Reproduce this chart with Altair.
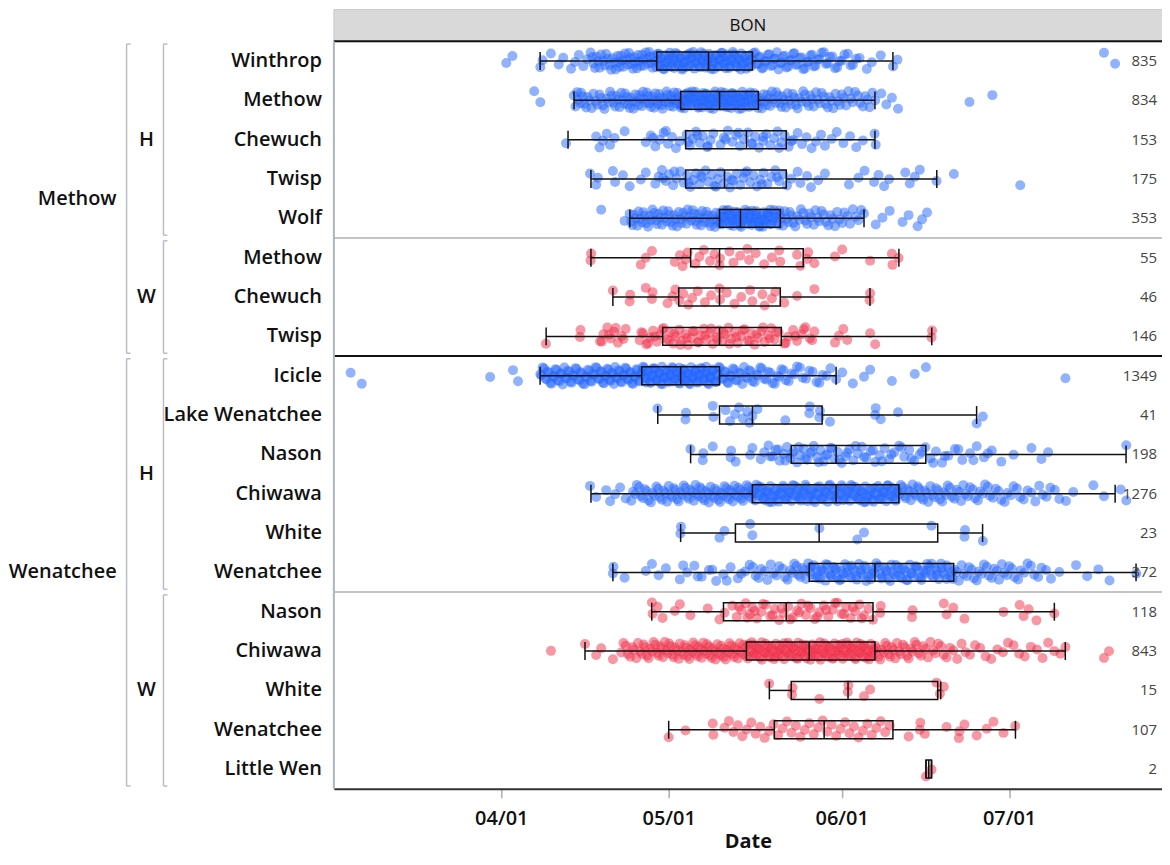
import altair as alt
import pandas as pd

# ---------------- data (days counted from 03/01 = 0) ----------------
ROW_NAMES = ["Winthrop", "Methow", "Chewuch", "Twisp", "Wolf",
             "Methow", "Chewuch", "Twisp",
             "Icicle", "Lake Wenatchee", "Nason", "Chiwawa", "White", "Wenatchee",
             "Nason", "Chiwawa", "White", "Wenatchee", "Little Wen"]
ROW_ORIGIN = ["H", "H", "H", "H", "H", "W", "W", "W",
              "H", "H", "H", "H", "H", "H", "W", "W", "W", "W", "W"]
ROW_RIVER = ["Methow", "Methow", "Methow", "Methow", "Methow", "Methow", "Methow", "Methow",
             "Wenatchee", "Wenatchee", "Wenatchee", "Wenatchee", "Wenatchee", "Wenatchee",
             "Wenatchee", "Wenatchee", "Wenatchee", "Wenatchee", "Wenatchee"]
N_COUNTS = [835, 834, 153, 175, 353, 55, 46, 146, 1349, 41, 198, 1276, 23, 372, 118, 843, 15, 107, 2]
FACET = "BON"

WHISKER_LO = [37.96, 44.04, 42.96, 47.07, 54.04, 47.07, 51.0, 39.04, 37.96, 59.04,
              64.93, 47.07, 63.14, 51.0, 57.96, 46.0, 79.04, 61.0, 107.1]
Q1 = [58.86, 63.14, 64.04, 64.04, 70.11, 64.93, 62.79, 59.93, 56.18, 70.11,
      82.96, 76.0, 72.96, 86.18, 70.82, 74.93, 82.96, 79.93, 107.1]
MEDIAN = [68.14, 70.11, 74.93, 71.0, 73.86, 70.11, 70.11, 70.11, 63.14, 76.0,
          91.0, 91.0, 87.96, 97.96, 82.07, 86.18, 93.14, 88.86, 107.6]
Q3 = [76.0, 77.07, 82.07, 82.07, 81.0, 85.11, 81.0, 81.18, 70.11, 88.5,
      107.07, 102.25, 109.21, 112.07, 97.61, 97.96, 109.21, 101.18, 108.1]
WHISKER_HI = [101.18, 97.96, 97.96, 109.04, 96.0, 102.25, 97.07, 108.14, 91.0, 116.18,
              142.96, 141.0, 117.25, 144.75, 130.11, 132.07, 109.75, 123.14, 108.1]

P_WINTHROP = [31.9, 33.0, 38.0, 38.4, 39.9, 41.3, 42.1, 43.5, 44.2, 44.9, 45.7, 46.4, 47.0, 47.5, 48.1,
              48.6, 49.3, 49.8, 50.4, 50.9, 51.5, 52.0, 52.4, 52.9, 53.5, 53.9, 54.4, 54.8, 55.3, 55.7,
              56.2, 56.6, 57.1, 57.5, 57.9, 58.3, 58.8, 59.1, 59.2, 59.5, 59.6, 60.0, 60.3, 60.4, 60.8,
              61.0, 61.2, 61.6, 61.8, 62.0, 62.4, 62.6, 62.8, 63.2, 63.4, 63.6, 64.0, 64.2, 64.4, 64.8,
              65.0, 65.2, 65.6, 65.9, 66.0, 66.4, 66.7, 66.8, 67.2, 67.4, 67.6, 68.0, 68.3, 68.4, 68.8,
              69.1, 69.2, 69.6, 69.9, 70.0, 70.4, 70.7, 70.8, 71.2, 71.4, 71.6, 72.0, 72.3, 72.5, 72.9,
              73.1, 73.3, 73.8, 74.0, 74.2, 74.6, 74.9, 75.1, 75.5, 75.8, 76.0, 76.5, 77.0, 77.4, 77.9,
              78.5, 79.0, 79.6, 80.1, 80.7, 81.2, 81.8, 82.4, 83.0, 83.5, 84.1, 84.8, 85.4, 86.0, 86.7,
              87.3, 88.0, 88.8, 89.5, 90.3, 91.2, 92.0, 93.1, 94.0, 95.2, 96.5, 97.4, 99.0, 101.2, 102.0,
              139.0, 141.0,
              47.3, 47.8, 48.4, 48.9, 49.5, 50.1, 50.7, 51.2, 51.8, 52.2, 52.7, 53.2, 53.7, 54.1, 54.6,
              55.1, 55.5, 56.0, 56.4, 56.9, 57.3, 57.7, 58.1, 58.6, 59.0, 59.4, 59.8, 60.2, 60.6, 61.1,
              61.4, 61.9, 62.2, 62.7, 63.0, 63.5, 63.9, 64.3, 64.7, 65.1, 65.4, 65.8, 66.2, 66.6, 67.0,
              67.3, 67.8, 68.2, 68.6, 69.0, 69.4, 69.8, 70.2, 70.6, 71.0, 71.3, 71.8, 72.2, 72.7, 73.0,
              73.5, 73.9, 74.4, 74.8, 75.3, 75.7, 76.2, 76.8, 77.2, 77.7, 78.2, 78.8, 79.3, 79.9, 80.4,
              81.0, 81.5, 82.1, 82.7, 83.3, 83.8, 84.5, 85.1, 85.7, 86.4, 87.0, 87.7, 88.4, 89.2, 89.9,
              90.8, 91.6, 92.5, 93.6, 94.6]
P_METHOW_H = [36.9, 38.0, 44.0, 44.3, 44.8, 45.3, 45.9, 46.5, 47.2, 47.9, 48.6, 49.2, 49.9, 50.5, 51.1,
              51.6, 52.2, 52.7, 53.2, 53.7, 54.2, 54.7, 55.2, 55.7, 56.2, 56.6, 57.1, 57.5, 58.0, 58.4,
              58.9, 59.3, 59.7, 60.1, 60.6, 61.0, 61.4, 61.8, 62.2, 62.6, 63.0, 63.4, 63.8, 64.2, 64.6,
              65.0, 65.4, 65.8, 66.2, 66.6, 67.0, 67.4, 67.8, 68.2, 68.6, 69.0, 69.4, 69.8, 70.2, 70.6,
              71.0, 71.4, 71.8, 72.2, 72.6, 73.0, 73.4, 73.8, 74.2, 74.6, 75.0, 75.4, 75.9, 76.3, 76.8,
              77.2, 77.7, 78.2, 78.7, 79.2, 79.8, 80.3, 80.9, 81.4, 82.0, 82.6, 83.2, 83.8, 84.4, 85.1,
              85.7, 86.4, 87.0, 87.7, 88.4, 89.1, 89.8, 90.5, 91.3, 92.0, 92.8, 93.6, 94.4, 95.3, 96.2,
              97.0, 98.0, 99.1, 100.0, 101.0, 102.1, 114.9, 119.0,
              63.3, 63.9, 64.5, 65.1, 65.7, 66.3, 66.9, 67.5, 68.1, 68.7, 69.3, 69.9, 70.5, 71.1, 71.7,
              72.3, 72.9, 73.5, 74.1, 74.7, 75.3, 75.9, 76.5,
              44.6, 45.1, 45.6, 46.2, 46.8, 47.5, 48.2, 48.9, 49.5, 50.2, 50.8, 51.4, 51.9, 52.5, 53.0,
              53.5, 54.0, 54.5, 55.0, 55.5, 55.9, 56.4, 56.9, 57.3, 57.8, 58.2, 58.6, 59.1, 59.5, 59.9,
              60.4, 60.8, 61.2, 61.6, 62.0, 62.4, 62.8, 63.2, 63.6, 64.0, 64.4, 64.8, 65.2, 65.6, 66.0,
              66.4, 66.8, 67.2, 67.6, 68.0, 68.4, 68.8, 69.2, 69.6, 70.0, 70.4, 70.8, 71.2, 71.6, 72.0,
              72.4, 72.8, 73.2, 73.6, 74.0, 74.4, 74.8, 75.2, 75.6, 76.1, 76.6, 77.0, 77.5, 78.0, 78.5,
              79.0, 79.5, 80.1, 80.6, 81.2, 81.7, 82.3, 82.9, 83.5, 84.1, 84.8, 85.4, 86.1, 86.7, 87.4,
              88.1, 88.8, 89.5, 90.2, 90.9, 91.7, 92.4, 93.2, 94.0, 94.9, 95.8, 96.6, 97.5]
P_CHEWUCH_H = [42.6, 48.0, 48.6, 49.2, 49.9, 50.5, 51.3, 53.1, 56.9, 57.8, 58.6, 59.4, 60.1, 60.9, 61.6,
               62.3, 63.0, 64.2, 64.8, 65.3, 65.9, 66.6, 67.1, 67.9, 68.5, 69.0, 70.3, 70.9, 71.6, 72.4,
               73.1, 73.8, 74.5, 75.2, 75.8, 76.5, 77.2, 77.9, 78.5, 79.2, 79.9, 80.5, 81.2, 81.8, 82.5,
               83.3, 84.1, 84.9, 85.7, 86.6, 87.4, 88.3, 89.0, 90.2, 91.1, 92.3, 93.5, 94.6, 95.8, 97.9,
               98.1, 58.2, 60.5, 64.5, 66.1, 68.0, 71.2, 73.5, 76.0, 78.0, 80.8, 83.0]
P_TWISP_H = [46.9, 48.0, 48.3, 51.0, 51.4, 52.8, 54.0, 56.0, 56.9, 58.6, 59.2, 59.8, 60.5, 61.1, 61.8,
             62.4, 63.1, 63.7, 64.3, 64.9, 65.4, 65.9, 66.5, 67.0, 67.6, 68.1, 68.7, 69.2, 69.8, 70.3,
             70.9, 71.5, 72.0, 72.6, 73.2, 73.8, 74.4, 75.0, 75.6, 76.2, 76.8, 77.4, 78.0, 78.7, 79.4,
             80.1, 80.8, 81.5, 82.2, 83.0, 84.1, 84.6, 85.8, 86.5, 87.8, 89.0, 93.3, 95.0, 96.1, 97.8,
             98.6, 99.6, 100.5, 103.4, 104.2, 105.1, 106.0, 109.0, 112.1, 124.0,
             60.0, 62.0, 64.6, 66.8, 69.5, 72.3, 74.7, 77.7, 80.4]
P_WOLF = [48.9, 53.1, 54.0, 54.5, 55.1, 55.6, 56.2, 56.7, 57.3, 57.8, 58.4, 58.9, 59.5, 60.0, 60.6,
          61.1, 61.7, 62.2, 62.8, 63.3, 63.9, 64.4, 65.0, 65.5, 66.0, 66.5, 67.0, 67.5, 68.0, 68.5,
          69.0, 69.5, 70.0, 70.4, 70.8, 71.2, 71.6, 72.0, 72.4, 72.8, 73.2, 73.6, 74.0, 74.4, 74.8,
          75.2, 75.6, 76.0, 76.4, 76.8, 77.2, 77.6, 78.0, 78.4, 78.8, 79.2, 79.7, 80.2, 80.7, 81.2,
          81.8, 82.4, 83.0, 83.7, 84.4, 85.1, 85.8, 86.5, 87.3, 88.0, 88.8, 89.6, 90.4, 91.2, 92.1,
          93.0, 94.0, 95.0, 96.0, 98.1, 99.3, 100.6, 102.9, 104.0, 105.6, 106.4, 107.3,
          70.3, 71.0, 71.7, 72.4, 73.1, 73.8, 74.5, 75.2, 75.9, 76.6, 77.3, 78.0, 78.7, 79.4, 80.1, 80.8,
          54.3, 54.8, 55.4, 55.9, 56.5, 57.0, 57.6, 58.1, 58.7, 59.2, 59.8, 60.3, 60.9, 61.4, 62.0,
          62.5, 63.1, 63.6, 64.2, 64.7, 65.3, 65.8, 66.3, 66.8, 67.3, 67.8, 68.3, 68.8, 69.3, 69.8,
          70.2, 70.6, 71.0, 71.4, 71.8, 72.2, 72.6, 73.0, 73.4, 73.9, 74.3, 74.7, 75.1, 75.5, 75.9,
          76.3, 76.7, 77.1, 77.5, 77.9, 78.3, 78.7, 79.1, 79.5, 79.9, 80.5, 81.0, 81.5, 82.1, 82.7,
          83.3, 84.0, 84.7, 85.5, 86.2, 87.0, 87.7, 88.4, 89.2, 90.0, 90.8, 91.6, 92.5, 93.5, 94.5, 95.5]
P_METHOW_W = [47.0, 47.1, 56.0, 56.9, 58.0, 62.1, 63.0, 63.5, 64.0, 64.4, 65.8, 66.5, 67.3, 68.4, 69.2,
              70.1, 70.2, 71.9, 72.6, 73.8, 75.1, 75.4, 76.6, 78.1, 79.5, 80.8, 81.0, 84.0, 84.6, 85.8,
              86.0, 87.1, 90.8, 92.1, 97.1, 101.0, 101.1, 102.2]
P_CHEWUCH_W = [51.0, 54.0, 54.1, 56.9, 58.0, 58.1, 60.8, 61.7, 62.2, 62.9, 63.6, 64.5, 65.2, 66.2, 67.5,
               68.6, 70.1, 70.2, 71.4, 72.8, 74.0, 75.6, 76.0, 77.8, 78.2, 79.5, 80.1, 81.7, 84.0, 87.1,
               97.0, 97.1]
P_TWISP_W = [39.0, 45.1, 45.2, 48.7, 49.3, 50.0, 50.6, 51.2, 51.9, 52.6, 53.3, 55.8, 56.4, 57.0, 57.6,
             58.2, 58.9, 59.5, 60.1, 60.7, 61.2, 61.8, 62.3, 62.9, 63.4, 64.0, 64.5, 65.1, 65.6, 66.2,
             66.7, 67.3, 67.8, 68.4, 68.9, 69.5, 70.0, 70.6, 71.1, 71.7, 72.2, 72.8, 73.4, 74.0, 74.6,
             75.2, 75.8, 76.4, 77.0, 77.6, 78.2, 78.8, 79.4, 80.0, 80.7, 81.7, 82.4, 83.3, 84.0, 84.8,
             85.5, 86.3, 87.1, 90.8, 91.5, 92.3, 93.0, 97.1, 98.0, 108.1, 108.2,
             49.0, 50.3, 51.5, 52.9, 56.1, 57.3, 58.5, 59.8, 61.0, 62.0, 63.1, 64.2, 65.3, 66.4, 67.5,
             68.6, 69.7, 70.8, 71.9, 73.1, 74.3, 75.5, 76.7, 77.9, 79.1, 80.3, 82.0, 83.7, 85.2, 86.7]
P_ICICLE = [4.0, 6.0, 29.0, 33.1, 34.0, 38.0, 38.4, 38.9, 39.3, 39.8, 40.2, 40.7, 41.1, 41.6, 42.0,
            42.5, 42.9, 43.4, 43.8, 44.3, 44.7, 45.2, 45.6, 46.1, 46.5, 47.0, 47.4, 47.9, 48.3, 48.8,
            49.2, 49.6, 50.0, 50.4, 50.8, 51.2, 51.6, 52.0, 52.4, 52.8, 53.2, 53.6, 54.0, 54.4, 54.8,
            55.2, 55.6, 56.0, 56.4, 56.8, 57.2, 57.6, 58.0, 58.4, 58.8, 59.2, 59.6, 60.0, 60.4, 60.8,
            61.2, 61.6, 62.0, 62.4, 62.8, 63.2, 63.6, 64.0, 64.4, 64.8, 65.2, 65.6, 66.0, 66.4, 66.8,
            67.2, 67.6, 68.0, 68.4, 68.8, 69.2, 69.6, 70.0, 70.5, 71.0, 71.5, 72.0, 72.5, 73.0, 73.6,
            74.2, 74.8, 75.4, 76.0, 76.7, 77.4, 78.1, 78.8, 79.6, 80.4, 81.2, 82.0, 83.0, 84.0, 85.0,
            86.2, 87.5, 88.6, 90.0, 91.0, 92.1, 94.0, 96.0, 97.1, 101.0, 105.1, 107.1, 132.1,
            56.3, 56.9, 57.5, 58.1, 58.7, 59.3, 59.9, 60.5, 61.1, 61.7, 62.3, 62.9, 63.5, 64.1, 64.7,
            65.3, 65.9, 66.5, 67.1, 67.7, 68.3, 68.9, 69.5,
            38.2, 38.7, 39.1, 39.6, 40.0, 40.5, 40.9, 41.4, 41.8, 42.3, 42.7, 43.2, 43.6, 44.1, 44.5,
            45.0, 45.4, 45.9, 46.3, 46.8, 47.2, 47.7, 48.1, 48.6, 49.0, 49.4, 49.8, 50.2, 50.6, 51.0,
            51.4, 51.8, 52.2, 52.6, 53.0, 53.4, 53.8, 54.2, 54.6, 55.0, 55.4, 55.8, 56.2, 56.6, 57.0,
            57.4, 57.8, 58.2, 58.6, 59.0, 59.4, 59.8, 60.2, 60.6, 61.0, 61.4, 61.8, 62.2, 62.6, 63.0,
            63.4, 63.8, 64.2, 64.6, 65.0, 65.4, 65.8, 66.2, 66.6, 67.0, 67.4, 67.8, 68.2, 68.6, 69.0,
            69.4, 69.8, 70.2, 70.7, 71.2, 71.7, 72.2, 72.8, 73.3, 73.9, 74.5, 75.1, 75.7, 76.4, 77.0,
            77.7, 78.5, 79.2, 80.0, 80.8, 81.6, 82.5, 83.5, 84.5, 85.6, 86.8, 88.0, 89.3]
P_LAKE_WEN = [59.0, 64.0, 64.1, 68.9, 69.0, 71.2, 72.0, 72.9, 73.6, 74.3, 75.1, 75.5, 76.0, 76.9, 81.9,
              86.2, 86.3, 88.0, 88.1, 89.9, 98.0, 98.1, 99.0, 102.1, 116.2, 117.3]
P_NASON_H = [64.9, 67.1, 67.2, 68.9, 72.1, 72.2, 73.0, 75.6, 76.0, 77.5, 78.1, 78.9, 79.6, 80.2, 80.9,
             81.6, 82.2, 82.8, 83.4, 84.0, 84.6, 85.2, 85.8, 86.4, 87.0, 87.6, 88.2, 88.8, 89.4, 90.0,
             90.6, 91.3, 92.0, 92.7, 93.4, 94.1, 94.9, 95.6, 96.4, 97.2, 98.0, 98.8, 99.7, 100.5, 101.4,
             102.3, 103.2, 104.1, 105.0, 106.0, 107.0, 107.9, 108.9, 110.0, 111.1, 112.3, 113.6, 115.0,
             116.2, 117.5, 118.9, 120.6, 122.8, 126.0, 127.8, 129.0, 143.0,
             79.2, 80.6, 81.9, 83.1, 84.3, 85.5, 86.7, 87.9, 89.1, 90.3, 91.6, 93.0, 94.5, 96.0, 97.6,
             99.2, 100.9, 102.7, 104.5, 106.4, 108.4, 110.5, 112.9, 115.6, 118.2]
P_CHIWAWA_H = [46.9, 48.0, 49.8, 50.5, 51.4, 52.3, 53.3, 54.6, 55.3, 56.0, 56.7, 57.4, 58.1, 58.8, 59.4,
               60.1, 60.7, 61.3, 61.9, 62.5, 63.1, 63.7, 64.3, 64.9, 65.5, 66.0, 66.6, 67.1, 67.7, 68.2,
               68.8, 69.3, 69.9, 70.4, 71.0, 71.5, 72.0, 72.5, 73.0, 73.5, 74.0, 74.5, 75.0, 75.5, 76.0,
               76.5, 77.0, 77.5, 78.0, 78.5, 79.0, 79.5, 80.0, 80.5, 81.0, 81.5, 82.0, 82.5, 83.0, 83.5,
               84.0, 84.5, 85.0, 85.5, 86.0, 86.5, 87.0, 87.5, 88.0, 88.5, 89.0, 89.5, 90.0, 90.5, 91.0,
               91.5, 92.0, 92.5, 93.0, 93.5, 94.0, 94.5, 95.0, 95.5, 96.0, 96.5, 97.0, 97.5, 98.0, 98.5,
               99.0, 99.5, 100.0, 100.5, 101.0, 101.5, 102.0, 102.6, 103.2, 103.8, 104.4, 105.0, 105.6,
               106.2, 106.9, 107.5, 108.2, 108.9, 109.6, 110.3, 111.0, 111.8, 112.6, 113.4, 114.2, 115.0,
               115.9, 116.8, 117.7, 118.6, 119.6, 120.6, 121.7, 122.8, 124.0, 125.3, 126.7, 128.0, 129.4,
               131.0, 133.5, 137.1, 139.0, 142.0, 143.0,
               76.3, 77.1, 77.9, 78.7, 79.5, 80.3, 81.1, 81.9, 82.7, 83.5, 84.3, 85.1, 85.9, 86.7, 87.5,
               88.3, 89.1, 89.9, 90.7, 91.5, 92.3, 93.1, 93.9, 94.7, 95.5, 96.3, 97.1, 97.9, 98.7, 99.5,
               100.3, 101.1, 101.9,
               54.3, 55.0, 55.7, 56.4, 57.1, 57.8, 58.5, 59.1, 59.8, 60.4, 61.0, 61.6, 62.2, 62.8, 63.4,
               64.0, 64.6, 65.2, 65.8, 66.3, 66.9, 67.4, 68.0, 68.5, 69.1, 69.6, 70.2, 70.7, 71.3, 71.8,
               72.3, 72.8, 73.3, 73.8, 74.3, 74.8, 75.3, 75.8, 76.2, 76.7, 77.2, 77.7, 78.2, 78.7, 79.2,
               79.7, 80.2, 80.7, 81.2, 81.7, 82.2, 82.7, 83.2, 83.7, 84.2, 84.7, 85.2, 85.7, 86.2, 86.7,
               87.2, 87.7, 88.2, 88.7, 89.2, 89.7, 90.2, 90.7, 91.2, 91.7, 92.2, 92.7, 93.2, 93.7, 94.2,
               94.7, 95.2, 95.7, 96.2, 96.7, 97.2, 97.7, 98.2, 98.7, 99.2, 99.7, 100.2, 100.7, 101.2,
               101.7, 102.3, 102.9, 103.5, 104.1, 104.7, 105.3, 105.9, 106.6, 107.2, 107.9, 108.6, 109.3,
               110.0, 110.7, 111.4, 112.2, 113.0, 113.8, 114.6, 115.5, 116.4, 117.3, 118.2, 119.1, 120.1,
               121.2, 122.3, 123.4, 124.6, 126.0, 127.4, 128.7, 130.2, 132.2]
P_WHITE_H = [63.1, 63.2, 70.1, 71.0, 75.6, 76.0, 88.0, 94.8, 96.0, 108.1, 114.0, 114.1, 117.3]
P_WENATCHEE_H = [51.0, 51.1, 53.1, 56.9, 58.0, 59.2, 60.5, 63.0, 64.3, 65.6, 66.9, 68.2, 69.5, 70.8, 72.1,
                 73.4, 74.7, 75.5, 76.6, 77.6, 78.7, 79.8, 80.8, 81.9, 82.8, 83.5, 84.2, 84.9, 85.6, 86.3,
                 87.0, 87.7, 88.4, 89.1, 89.8, 90.5, 91.2, 91.9, 92.6, 93.3, 94.0, 94.7, 95.4, 96.1, 96.8,
                 97.5, 98.2, 98.9, 99.6, 100.3, 101.0, 101.7, 102.4, 103.1, 103.8, 104.5, 105.2, 105.9,
                 106.6, 107.3, 108.0, 108.7, 109.4, 110.1, 110.8, 111.5, 112.2, 113.0, 113.9, 114.8, 115.7,
                 116.6, 117.5, 118.4, 119.3, 120.2, 121.1, 122.0, 123.0, 124.1, 125.3, 126.5, 127.8, 129.5,
                 131.0, 134.0, 136.0, 138.0, 140.0, 144.8,
                 86.5, 87.4, 88.3, 89.2, 90.1, 91.0, 91.9, 92.8, 93.7, 94.6, 95.5, 96.4, 97.3, 98.2, 99.1,
                 100.0, 100.9, 101.8, 102.7, 103.6, 104.5, 105.4, 106.3, 107.2, 108.1, 109.0, 109.9, 110.8,
                 111.7,
                 63.6, 66.2, 68.8, 71.4, 74.0, 76.1, 77.1, 78.2, 79.3, 80.3, 81.4, 82.3, 83.2, 83.9, 84.6,
                 85.3, 86.0, 86.7, 87.4, 88.1, 88.8, 89.5, 90.2, 90.9, 91.6, 92.3, 93.0, 93.7, 94.4, 95.1,
                 95.8, 96.5, 97.2, 97.9, 98.6, 99.3, 100.0, 100.7, 101.4, 102.1, 102.8, 103.5, 104.2, 104.9,
                 105.6, 106.3, 107.0, 107.7, 108.4, 109.1, 109.8, 110.5, 111.2, 111.9, 112.6, 113.5, 114.4,
                 115.3, 116.2, 117.1, 118.0, 118.9, 119.8, 120.7, 121.6, 122.5, 123.6, 124.7, 125.9, 127.2,
                 128.6]
P_NASON_W = [58.0, 58.1, 59.0, 59.9, 62.1, 63.0, 64.9, 68.0, 70.1, 71.0, 72.4, 73.2, 74.0, 74.8, 75.5,
             76.0, 76.8, 77.6, 78.4, 79.2, 80.0, 80.8, 81.6, 82.4, 83.2, 84.0, 84.8, 85.6, 86.4, 87.2,
             88.0, 88.8, 89.6, 90.4, 91.2, 92.0, 92.8, 93.6, 94.4, 95.2, 96.0, 96.8, 97.6, 98.9, 99.0,
             104.6, 104.7, 110.3, 110.8, 112.0, 114.0, 121.0, 123.9, 124.6, 125.5, 126.9, 130.1,
             73.6, 75.1, 76.4, 77.9, 79.6, 81.2, 82.8, 84.4, 86.0, 87.6, 89.2, 90.8, 92.4, 94.0, 95.6]
P_CHIWAWA_W = [39.9, 46.0, 48.0, 48.9, 51.0, 52.5, 53.3, 54.1, 54.8, 55.5, 56.2, 56.8, 57.4, 58.0, 58.6,
               59.2, 59.7, 60.3, 60.8, 61.4, 61.9, 62.5, 63.0, 63.6, 64.1, 64.7, 65.2, 65.7, 66.2, 66.7,
               67.2, 67.7, 68.2, 68.7, 69.2, 69.7, 70.2, 70.7, 71.2, 71.7, 72.2, 72.7, 73.2, 73.7, 74.2,
               74.7, 75.2, 75.7, 76.2, 76.7, 77.2, 77.7, 78.2, 78.7, 79.2, 79.7, 80.2, 80.7, 81.2, 81.7,
               82.2, 82.7, 83.2, 83.7, 84.2, 84.7, 85.2, 85.7, 86.2, 86.7, 87.2, 87.7, 88.2, 88.7, 89.2,
               89.7, 90.2, 90.7, 91.2, 91.7, 92.2, 92.7, 93.2, 93.7, 94.2, 94.7, 95.2, 95.7, 96.2, 96.7,
               97.2, 97.7, 98.3, 98.9, 99.5, 100.1, 100.7, 101.3, 101.9, 102.6, 103.3, 104.0, 104.7,
               105.4, 106.2, 107.0, 107.9, 108.8, 109.8, 110.8, 112.0, 113.5, 115.0, 116.8, 118.8, 120.9,
               122.8, 124.8, 127.0, 129.0, 131.2, 132.1, 139.0, 139.9,
               75.3, 76.1, 76.9, 77.7, 78.5, 79.3, 80.1, 80.9, 81.7, 82.5, 83.3, 84.1, 84.9, 85.7, 86.5,
               87.3, 88.1, 88.9, 89.7, 90.5, 91.3, 92.1, 92.9, 93.7, 94.5, 95.3, 96.1, 96.9, 97.7,
               52.9, 53.7, 54.5, 55.2, 55.9, 56.5, 57.1, 57.7, 58.3, 58.9, 59.5, 60.0, 60.6, 61.1, 61.7,
               62.2, 62.8, 63.3, 63.9, 64.4, 64.9, 65.4, 65.9, 66.4, 66.9, 67.4, 67.9, 68.4, 68.9, 69.4,
               69.9, 70.4, 70.9, 71.4, 71.9, 72.4, 72.9, 73.4, 73.9, 74.4, 74.9, 75.4, 75.9, 76.4, 76.9,
               77.4, 77.9, 78.4, 78.9, 79.4, 79.9, 80.4, 80.9, 81.4, 81.9, 82.4, 82.9, 83.4, 83.9, 84.4,
               84.9, 85.4, 85.9, 86.4, 86.9, 87.4, 87.9, 88.4, 88.9, 89.4, 89.9, 90.4, 90.9, 91.4, 91.9,
               92.4, 92.9, 93.4, 93.9, 94.4, 94.9, 95.4, 95.9, 96.4, 96.9, 97.4, 98.0, 98.6, 99.2, 99.8,
               100.4, 101.0, 101.6, 102.3, 103.0, 103.7, 104.4, 105.1, 105.8, 106.6, 107.5, 108.4, 109.3,
               110.3, 111.4, 112.7, 114.2, 115.9, 117.8, 119.9, 121.8, 123.8, 125.9, 128.0, 130.1]
P_WHITE_W = [79.0, 83.1, 83.2, 88.0, 93.1, 93.2, 96.0, 97.1, 109.0, 109.6, 110.3]
P_WENATCHEE_W = [61.0, 64.0, 68.9, 69.0, 71.0, 71.8, 72.6, 73.4, 74.2, 75.0, 75.8, 76.6, 77.4, 78.2, 79.0,
                 79.8, 80.6, 81.4, 82.2, 83.0, 83.8, 84.6, 85.4, 86.2, 87.0, 87.8, 88.6, 89.4, 90.2, 91.0,
                 91.8, 92.6, 93.4, 94.2, 95.0, 95.8, 96.6, 97.4, 98.2, 99.0, 99.8, 100.6, 104.0, 106.0,
                 106.1, 106.9, 110.8, 113.0, 113.1, 114.0, 116.2, 118.0, 119.2, 121.0, 123.1]
P_LITTLE_WEN = [107.1, 108.1]

POINTS = [P_WINTHROP, P_METHOW_H, P_CHEWUCH_H, P_TWISP_H, P_WOLF, P_METHOW_W, P_CHEWUCH_W, P_TWISP_W,
          P_ICICLE, P_LAKE_WEN, P_NASON_H, P_CHIWAWA_H, P_WHITE_H, P_WENATCHEE_H,
          P_NASON_W, P_CHIWAWA_W, P_WHITE_W, P_WENATCHEE_W, P_LITTLE_WEN]

TICK_DAYS = [31, 61, 92, 122]
TICK_LABELS = ["04/01", "05/01", "06/01", "07/01"]

# ---------------- layout / style ----------------
W, H = 831, 750
FONT = "Open Sans"
BLUE, RED = "#2466ff", "#f0304a"
BRACKET = "#b7bec8"
KEYS = [f"r{i:02d}" for i in range(len(ROW_NAMES))]

# ---------------- tables ----------------
pts = pd.DataFrame([{"key": KEYS[i], "day": v, "origin": ROW_ORIGIN[i]}
                    for i, vals in enumerate(POINTS) for v in vals])
box = pd.DataFrame({"key": KEYS, "name": ROW_NAMES, "n": N_COUNTS, "lo": WHISKER_LO, "q1": Q1,
                    "med": MEDIAN, "q3": Q3, "hi": WHISKER_HI})


def runs(labels):
    out, start = [], 0
    for i in range(1, len(labels) + 1):
        if i == len(labels) or labels[i] != labels[start]:
            out.append((labels[start], start, i - 1))
            start = i
    return out


inset = 0.07
pairs = list(zip(ROW_RIVER, ROW_ORIGIN))
inner = pd.DataFrame([{"label": p[1], "y0": s - 0.5 + inset, "y1": e + 0.5 - inset, "mid": (s + e) / 2}
                      for p, s, e in runs(pairs)])
outer = pd.DataFrame([{"label": r, "y0": s - 0.5 + inset, "y1": e + 0.5 - inset, "mid": (s + e) / 2}
                      for r, s, e in runs(ROW_RIVER)])
seps = []
for i in range(1, len(ROW_NAMES)):
    if pairs[i] != pairs[i - 1]:
        seps.append({"b": i - 0.5, "kind": "river" if ROW_RIVER[i] != ROW_RIVER[i - 1] else "origin"})
seps = pd.DataFrame(seps)
one = pd.DataFrame({"facet": [FACET]})

label_expr = "".join(f"datum.value == {d} ? '{l}' : " for d, l in zip(TICK_DAYS, TICK_LABELS)) + "''"

xs = alt.Scale(domain=[1.0, 149.4], nice=False, zero=False)
xaxis = alt.Axis(values=TICK_DAYS, labelExpr=label_expr, title="Date", grid=False,
                 domainColor="#333333", domainWidth=2, tickColor="#aab0b8", tickWidth=1.5, tickSize=9,
                 labelFont=FONT, labelFontSize=20, labelFontWeight=600, labelColor="#111111",
                 labelPadding=11, titleFont=FONT, titleFontSize=20, titleFontWeight="bold",
                 titleColor="#111111", titlePadding=3)
yband = alt.Y("key:N", scale=alt.Scale(domain=KEYS, paddingInner=0, paddingOuter=0), axis=None)
yq = alt.Scale(domain=[-0.5, len(ROW_NAMES) - 0.5], reverse=True, nice=False, zero=False)


def X(field):
    return alt.X(field, scale=xs, axis=xaxis)


# header
header = alt.Chart(one).mark_rect(fill="#d9d9d9", stroke="#cccccc", strokeWidth=1).encode(
    x=alt.value(0), x2=alt.value(W + 10), y=alt.value(-32), y2=alt.value(0))
header_txt = alt.Chart(one).mark_text(font=FONT, fontSize=17, color="#111111", baseline="middle").encode(
    x=alt.value(W / 2), y=alt.value(-15), text="facet:N")
top_line = alt.Chart(one).mark_rule(color="#111111", strokeWidth=2).encode(
    x=alt.value(0), x2=alt.value(W), y=alt.value(0))
left_line = alt.Chart(one).mark_rule(color="#b0b7bf", strokeWidth=2).encode(
    x=alt.value(0), y=alt.value(0), y2=alt.value(H))

sep_origin = alt.Chart(seps).transform_filter("datum.kind == 'origin'").mark_rule(
    color="#c4c4c4", strokeWidth=2).encode(x=alt.value(0), x2=alt.value(W), y=alt.Y("b:Q", scale=yq, axis=None))
sep_river = alt.Chart(seps).transform_filter("datum.kind == 'river'").mark_rule(
    color="#111111", strokeWidth=2).encode(x=alt.value(0), x2=alt.value(W), y=alt.Y("b:Q", scale=yq, axis=None))

points = alt.Chart(pts).transform_window(rn="row_number()").transform_calculate(
    jit="(datum.rn * 0.6180339887) % 1").mark_circle(size=100, opacity=0.5).encode(
    x=X("day:Q"), y=yband,
    yOffset=alt.YOffset("jit:Q", scale=alt.Scale(domain=[0, 1], range=[10.5, 28.5])),
    color=alt.Color("origin:N", scale=alt.Scale(domain=["H", "W"], range=[BLUE, RED]), legend=None))

wl = alt.Chart(box).mark_rule(color="#111111", strokeWidth=1.5).encode(x=X("lo:Q"), x2="q1:Q", y=yband)
wh = alt.Chart(box).mark_rule(color="#111111", strokeWidth=1.5).encode(x=X("q3:Q"), x2="hi:Q", y=yband)
boxes = alt.Chart(box).mark_bar(size=18, fillOpacity=0, stroke="#111111", strokeWidth=1.5).encode(
    x=X("q1:Q"), x2="q3:Q", y=yband)
med = alt.Chart(box).mark_tick(size=18, thickness=1.5, color="#111111", opacity=1).encode(x=X("med:Q"), y=yband)
caps = alt.Chart(box).transform_fold(["lo", "hi"], as_=["end", "v"]).mark_tick(
    size=18, thickness=1.5, color="#111111", opacity=1).encode(x=X("v:Q"), y=yband)

nlab = alt.Chart(box).mark_text(font=FONT, fontSize=15, color="#444444", align="right", baseline="middle").encode(
    x=alt.value(W - 5), y=yband, text="n:Q")
rowlab = alt.Chart(box).mark_text(font=FONT, fontSize=20, fontWeight=600, color="#111111", align="right",
                                  baseline="middle").encode(x=alt.value(-12), y=yband, text="name:N")

in_v = alt.Chart(inner).mark_rule(color=BRACKET, strokeWidth=1.5).encode(
    x=alt.value(-171), y=alt.Y("y0:Q", scale=yq, axis=None), y2="y1:Q")
in_s = alt.Chart(inner).transform_fold(["y0", "y1"], as_=["e", "yy"]).mark_rule(
    color=BRACKET, strokeWidth=1.5).encode(x=alt.value(-171), x2=alt.value(-167),
                                           y=alt.Y("yy:Q", scale=yq, axis=None))
in_t = alt.Chart(inner).mark_text(font=FONT, fontSize=20, fontWeight=600, color="#111111",
                                  baseline="middle").encode(
    x=alt.value(-188), y=alt.Y("mid:Q", scale=yq, axis=None), text="label:N")
out_v = alt.Chart(outer).mark_rule(color=BRACKET, strokeWidth=1.5).encode(
    x=alt.value(-208), y=alt.Y("y0:Q", scale=yq, axis=None), y2="y1:Q")
out_s = alt.Chart(outer).transform_fold(["y0", "y1"], as_=["e", "yy"]).mark_rule(
    color=BRACKET, strokeWidth=1.5).encode(x=alt.value(-208), x2=alt.value(-204),
                                           y=alt.Y("yy:Q", scale=yq, axis=None))
out_t = alt.Chart(outer).mark_text(font=FONT, fontSize=20, fontWeight=600, color="#111111", align="right",
                                   baseline="middle").encode(
    x=alt.value(-218), y=alt.Y("mid:Q", scale=yq, axis=None), text="label:N")

chart = alt.layer(
    header, header_txt, sep_origin, points, wl, wh, boxes, med, caps, sep_river, top_line, left_line,
    nlab, rowlab, in_v, in_s, in_t, out_v, out_s, out_t
).resolve_scale(y="independent").properties(
    width=W, height=H, autosize=alt.AutoSizeParams(type="none"),
    padding={"left": 327, "top": 32, "right": 0, "bottom": 63}
).configure_view(strokeWidth=0).configure(background="white")

chart.save("out.html", embed_options={"renderer": "svg", "actions": False})
